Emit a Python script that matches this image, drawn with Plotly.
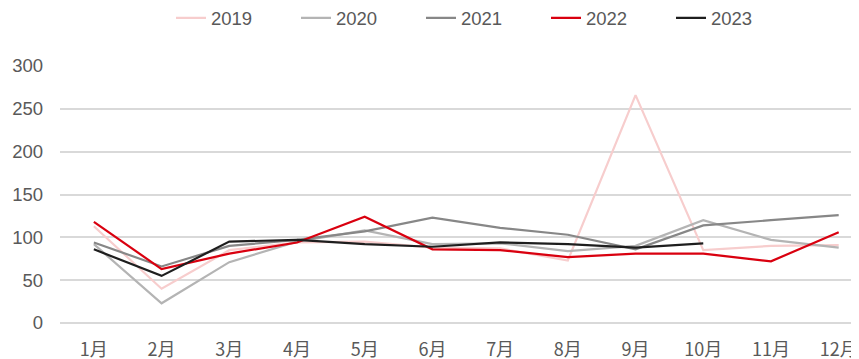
import plotly.graph_objects as go

months = ["1月", "2月", "3月", "4月", "5月", "6月", "7月", "8月", "9月", "10月", "11月", "12月"]
s2019 = [113, 40, 85, 94, 95, 88, 87, 73, 266, 85, 90, 91]
s2020 = [92, 23, 71, 95, 108, 92, 93, 84, 90, 120, 97, 88]
s2021 = [94, 66, 90, 97, 107, 123, 111, 103, 86, 114, 120, 126]
s2022 = [118, 63, 81, 94, 124, 86, 85, 77, 81, 81, 72, 106]
s2023 = [86, 55, 95, 97, 92, 89, 94, 92, 88, 93]

series = [
    ("2019", s2019, "#F7CDCD"),
    ("2020", s2020, "#B4B4B4"),
    ("2021", s2021, "#878787"),
    ("2022", s2022, "#D9000F"),
    ("2023", s2023, "#1E1E1E"),
]

FONT = "Liberation Sans, Noto Sans CJK SC, sans-serif"
TXT = "#595959"

fig = go.Figure()
for name, vals, color in series:
    fig.add_trace(go.Scatter(
        x=months[:len(vals)], y=vals, name=name, mode="lines",
        line=dict(color=color, width=2.2),
    ))

fig.update_layout(
    width=859, height=359,
    margin=dict(l=52, r=8, t=57.6, b=44.3, autoexpand=False),
    plot_bgcolor="white", paper_bgcolor="white",
    font=dict(family=FONT, size=18.5, color=TXT),
    showlegend=True,
    legend=dict(orientation="h", xref="container", x=163 / 859, xanchor="left",
                yref="container", y=1 - 10.3 / 359, yanchor="middle",
                font=dict(size=18.5, color=TXT),
                entrywidth=80, entrywidthmode="pixels",
                itemwidth=30, tracegroupgap=0),
    xaxis=dict(type="category", categoryorder="array", categoryarray=months,
               range=[-0.5, 11.3], showgrid=False, showline=False, zeroline=False,
               automargin=False, ticks="", ticklabelstandoff=14,
               tickfont=dict(family="Noto Sans CJK SC, sans-serif", size=18, color=TXT)),
    yaxis=dict(range=[0, 300], dtick=50, showgrid=True, gridcolor="#D9D9D9", gridwidth=1.5,
               zeroline=True, zerolinecolor="#D9D9D9", zerolinewidth=1.5, automargin=False,
               showline=False, ticks="", ticklabelstandoff=16),
)

fig.write_html("out.html")
